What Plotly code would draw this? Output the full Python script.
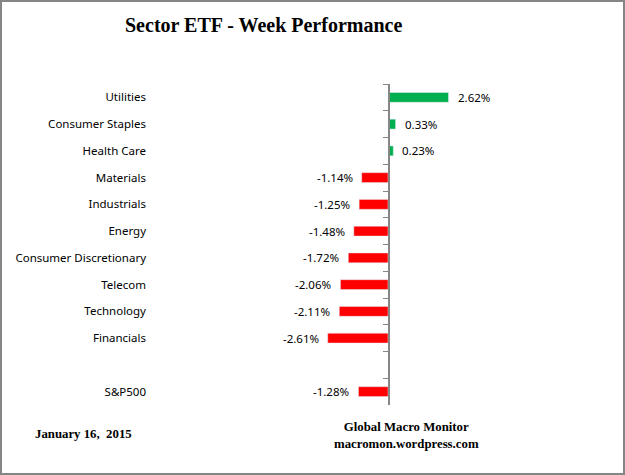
import plotly.graph_objects as go

categories = ["Utilities", "Consumer Staples", "Health Care", "Materials", "Industrials",
              "Energy", "Consumer Discretionary", "Telecom", "Technology", "Financials",
              " ", "S&P500"]
values = [2.62, 0.33, 0.23, -1.14, -1.25, -1.48, -1.72, -2.06, -2.11, -2.61, None, -1.28]

W, H = 625, 475
L, R, T, B = 152, 10, 84, 70
PW, PH = W - L - R, H - T - B
XMIN, XMAX = -10.22, 9.83

def px(x):
    return (x - L) / PW

def py(y):
    return 1 - (y - T) / PH

colors = ["#00B050" if (v is not None and v >= 0) else "#FF0000" for v in values]

fig = go.Figure()
fig.add_trace(go.Bar(x=values, y=categories, orientation="h", marker_color=colors,
                     width=0.37, hoverinfo="skip", showlegend=False))
fig.add_trace(go.Scatter(x=[None] * len(categories), y=categories, yaxis="y2",
                         mode="markers", showlegend=False, hoverinfo="skip"))

lab_font = dict(family="Noto Sans", size=11.5, color="#000000")
ann = []
for c, v in zip(categories, values):
    if v is None:
        continue
    ann.append(dict(x=v, y=c, xref="x", yref="y", text=f"{v:.2f}%", showarrow=False,
                    xanchor="left" if v >= 0 else "right",
                    xshift=7 if v >= 0 else -7, font=lab_font))

ann.append(dict(x=px(263), y=py(25), xref="paper", yref="paper", xanchor="center", yanchor="middle",
                text="<b>Sector ETF - Week Performance</b>", showarrow=False,
                font=dict(family="Liberation Serif", size=20, color="#000000")))
ann.append(dict(x=px(83), y=py(434), xref="paper", yref="paper", xanchor="center", yanchor="middle",
                text="<b>January 16,  2015</b>", showarrow=False,
                font=dict(family="Liberation Serif", size=12.8, color="#000000")))
ann.append(dict(x=px(406), y=py(435), xref="paper", yref="paper", xanchor="center", yanchor="middle",
                text="<b>Global Macro Monitor<br>macromon.wordpress.com</b>", showarrow=False,
                font=dict(family="Liberation Serif", size=12.8, color="#000000")))

n = len(categories)
fig.update_layout(
    width=W, height=H,
    margin=dict(l=L, r=R, t=T, b=B, autoexpand=False),
    paper_bgcolor="white", plot_bgcolor="white",
    bargap=0,
    xaxis=dict(range=[XMIN, XMAX], visible=False, showgrid=False, zeroline=False),
    yaxis=dict(type="category", categoryorder="array", categoryarray=categories,
               range=[n - 0.5, -0.5], showgrid=False, showline=False, ticks="",
               tickfont=lab_font, ticklabelstandoff=5),
    yaxis2=dict(type="category", categoryorder="array", categoryarray=categories,
                matches="y", overlaying="y", anchor="free",
                position=(0 - XMIN) / (XMAX - XMIN), side="left",
                showline=True, linecolor="#868686", linewidth=1.5,
                ticks="outside", tickson="boundaries", ticklen=5, tickcolor="#868686",
                tickwidth=1, showticklabels=False, showgrid=False),
    annotations=ann,
    shapes=[dict(type="rect", xref="paper", yref="paper",
                 x0=px(1), x1=px(W - 1), y0=py(1), y1=py(H - 1),
                 line=dict(color="#868686", width=2), fillcolor="rgba(0,0,0,0)")],
)

fig.write_html("out.html", config={"displayModeBar": False, "staticPlot": True},
               post_script="document.body.style.margin='0';document.body.style.overflow='hidden';")
